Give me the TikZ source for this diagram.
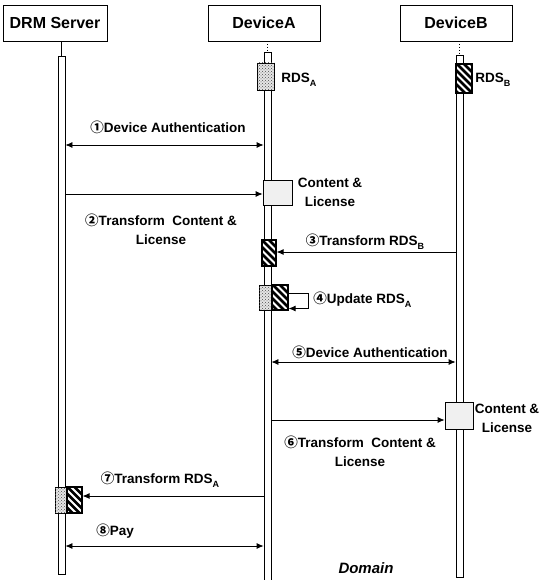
\documentclass[tikz,border=0pt]{standalone}
\usepackage{fontspec}
\setmainfont{Liberation Sans}
\newfontfamily\circfont{Noto Sans CJK SC}
\usetikzlibrary{arrows.meta,patterns,positioning}
\newcommand{\numc}[1]{{\circfont\fontsize{13.5}{13.5}\selectfont #1}}
\newcommand{\lowidx}[1]{\raisebox{-.5ex}{\fontsize{9}{9}\selectfont #1}}

\begin{document}
\begin{tikzpicture}[x=1pt,y=-1pt,line width=0.8pt,
  actor/.style={draw,minimum width=106pt,minimum height=36pt,font=\fontsize{16}{16}\selectfont\bfseries},
  bar/.style={draw,fill=white,minimum width=7pt,inner sep=0pt},
  msg/.style={-{Latex[length=7pt,width=6pt]}},
  both/.style={{Latex[length=7pt,width=6pt]}-{Latex[length=7pt,width=6pt]}},
  lbl/.style={font=\fontsize{13.5}{19}\selectfont\bfseries,align=center,inner sep=0pt},
  dotbox/.style={draw,fill=black!10,postaction={pattern=crosshatch dots,pattern color=black!70},inner sep=0pt},
  hatchbox/.style={draw,line width=1.2pt,fill=white,inner sep=0pt,
    path picture={\foreach \k in {-49,-42,...,14}
      \draw[line width=2.6pt] ([xshift=\k pt]path picture bounding box.north) -- ++(34pt,-34pt);}},
  docbox/.style={draw,fill=black!6,inner sep=0pt}]
  \useasboundingbox (0,0) rectangle (546,580);

  % Actors
  \node[actor,minimum width=104pt] (drm) at (55,23) {DRM Server};
  \node[actor,minimum width=112pt] (devA) at (264,23) {DeviceA};
  \node[actor,minimum width=112pt] (devB) at (456,23) {DeviceB};

  % Lifelines
  \node[bar,minimum height=518pt] (drmbar) at (61.5,315) {};
  \node[bar,minimum height=528pt] (abar) at (267.5,316) {};
  \node[bar,minimum height=522pt] (bbar) at (459.5,316) {};
  \draw (drm.south -| drmbar) -- (drmbar.north);
  \draw[dotted] (devA.south -| abar) -- (abar.north);
  \draw[dotted] (devB.south -| bbar) -- (bbar.north);

  % Rights data at start
  \node[dotbox,minimum width=17pt,minimum height=27pt] (rdsA) at (265.5,76.5) {};
  \node[lbl,anchor=west] (rdsAlbl) at (281,80) {RDS\lowidx{A}};
  \node[hatchbox,minimum width=16pt,minimum height=29pt] (rdsB) at (464,78.5) {};
  \node[lbl,anchor=west] (rdsBlbl) at (475,80) {RDS\lowidx{B}};

  % Message rows
  \coordinate (r1) at (0,145);
  \coordinate (r2) at (0,194);
  \coordinate (r3) at (0,252);
  \coordinate (r5) at (0,362);
  \coordinate (r6) at (0,420);
  \coordinate (r7) at (0,496);
  \coordinate (r8) at (0,546);

  % 1
  \draw[both] (drmbar.east |- r1) -- (abar.west |- r1);
  \node[lbl] (m1) at (168,127) {\numc{①}Device Authentication};

  % 2
  \node[docbox,minimum width=29pt,minimum height=25pt] (cA) at (277.5,192.5) {};
  \node[lbl] (cAlbl) at (330,192) {Content \&\\License};
  \draw[msg] (drmbar.east |- r2) -- (cA.west |- r2);
  \node[lbl] (m2) at (161,229.5) {\numc{②}Transform\ \ Content \&\\License};

  % 3
  \node[hatchbox,minimum width=14pt,minimum height=26pt] (h3) at (269,253) {};
  \draw[msg] (bbar.west |- r3) -- (h3.east |- r3);
  \node[lbl] (m3) at (365,242) {\numc{③}Transform RDS\lowidx{B}};

  % 4
  \node[dotbox,minimum width=13pt,minimum height=25pt] (upA) at (265.5,297.5) {};
  \node[hatchbox,minimum width=16pt,minimum height=25pt] (upB) at (280,297.5) {};
  \draw[msg] ([yshift=4.5pt]upB.east) -- ++(20,0) |- ([yshift=-11pt]upB.east);
  \node[lbl,anchor=west] (m4) at (313,300) {\numc{④}Update RDS\lowidx{A}};

  % 5
  \draw[both] (abar.east |- r5) -- (bbar.west |- r5);
  \node[lbl] (m5) at (370,352) {\numc{⑤}Device Authentication};

  % 6
  \node[docbox,minimum width=28pt,minimum height=27pt] (cB) at (459,415.5) {};
  \node[lbl] (cBlbl) at (507,418) {Content \&\\License};
  \draw[msg] (abar.east |- r6) -- (cB.west |- r6);
  \node[lbl] (m6) at (360,451) {\numc{⑥}Transform\ \ Content \&\\License};

  % 7
  \node[dotbox,minimum width=12pt,minimum height=26pt] (s7A) at (61,500) {};
  \node[hatchbox,minimum width=15pt,minimum height=26pt] (s7B) at (74.5,500) {};
  \draw[msg] (abar.west |- r7) -- (s7B.east |- r7);
  \node[lbl] (m7) at (160,480) {\numc{⑦}Transform RDS\lowidx{A}};

  % 8
  \draw[both] (drmbar.east |- r8) -- (abar.west |- r8);
  \node[lbl,anchor=west] (m8) at (96,531) {\numc{⑧}Pay};

  \node[font=\fontsize{15}{15}\selectfont\bfseries\itshape] (dom) at (366,568) {Domain};
\end{tikzpicture}
\end{document}
